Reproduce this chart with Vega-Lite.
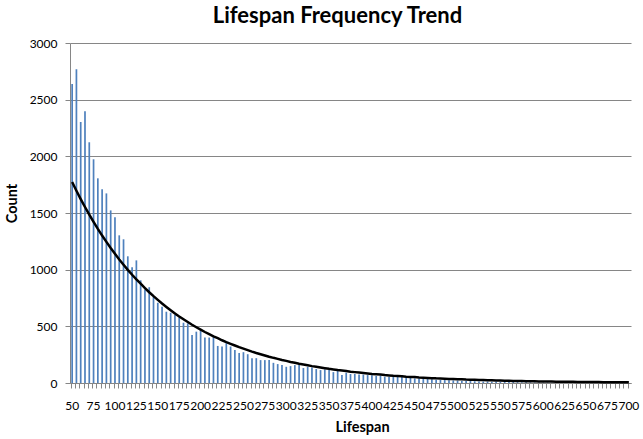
{
  "$schema": "https://vega.github.io/schema/vega-lite/v6.json",
  "width": 561,
  "height": 340,
  "autosize": {"type": "none"},
  "padding": {"left": 70, "top": 43, "right": 12, "bottom": 56},
  "title": {
    "text": "Lifespan Frequency Trend",
    "font": "Lato",
    "fontSize": 22,
    "fontWeight": "bold",
    "color": "#000000",
    "offset": 9,
    "dx": -13
  },
  "data": {
    "values": [
      {"lifespan": 50, "count": 2638, "trend": 1773},
      {"lifespan": 55, "count": 2768, "trend": 1696},
      {"lifespan": 60, "count": 2303, "trend": 1623},
      {"lifespan": 65, "count": 2397, "trend": 1553},
      {"lifespan": 70, "count": 2124, "trend": 1486},
      {"lifespan": 75, "count": 1974, "trend": 1422},
      {"lifespan": 80, "count": 1806, "trend": 1360},
      {"lifespan": 85, "count": 1709, "trend": 1301},
      {"lifespan": 90, "count": 1673, "trend": 1245},
      {"lifespan": 95, "count": 1523, "trend": 1191},
      {"lifespan": 100, "count": 1462, "trend": 1140},
      {"lifespan": 105, "count": 1303, "trend": 1090},
      {"lifespan": 110, "count": 1268, "trend": 1043},
      {"lifespan": 115, "count": 1118, "trend": 998},
      {"lifespan": 120, "count": 1021, "trend": 955},
      {"lifespan": 125, "count": 1082, "trend": 914},
      {"lifespan": 130, "count": 906, "trend": 876},
      {"lifespan": 135, "count": 825, "trend": 838},
      {"lifespan": 140, "count": 845, "trend": 801},
      {"lifespan": 145, "count": 760, "trend": 766},
      {"lifespan": 150, "count": 708, "trend": 733},
      {"lifespan": 155, "count": 673, "trend": 701},
      {"lifespan": 160, "count": 629, "trend": 671},
      {"lifespan": 165, "count": 620, "trend": 642},
      {"lifespan": 170, "count": 599, "trend": 614},
      {"lifespan": 175, "count": 579, "trend": 587},
      {"lifespan": 180, "count": 532, "trend": 562},
      {"lifespan": 185, "count": 526, "trend": 538},
      {"lifespan": 190, "count": 424, "trend": 514},
      {"lifespan": 195, "count": 453, "trend": 492},
      {"lifespan": 200, "count": 462, "trend": 471},
      {"lifespan": 205, "count": 401, "trend": 450},
      {"lifespan": 210, "count": 401, "trend": 431},
      {"lifespan": 215, "count": 404, "trend": 412},
      {"lifespan": 220, "count": 327, "trend": 395},
      {"lifespan": 225, "count": 322, "trend": 377},
      {"lifespan": 230, "count": 351, "trend": 361},
      {"lifespan": 235, "count": 322, "trend": 346},
      {"lifespan": 240, "count": 292, "trend": 331},
      {"lifespan": 245, "count": 265, "trend": 316},
      {"lifespan": 250, "count": 272, "trend": 303},
      {"lifespan": 255, "count": 254, "trend": 290},
      {"lifespan": 260, "count": 219, "trend": 277},
      {"lifespan": 265, "count": 219, "trend": 265},
      {"lifespan": 270, "count": 202, "trend": 254},
      {"lifespan": 275, "count": 202, "trend": 243},
      {"lifespan": 280, "count": 202, "trend": 232},
      {"lifespan": 285, "count": 178, "trend": 222},
      {"lifespan": 290, "count": 167, "trend": 213},
      {"lifespan": 295, "count": 158, "trend": 203},
      {"lifespan": 300, "count": 143, "trend": 195},
      {"lifespan": 305, "count": 149, "trend": 186},
      {"lifespan": 310, "count": 158, "trend": 178},
      {"lifespan": 315, "count": 164, "trend": 170},
      {"lifespan": 320, "count": 132, "trend": 163},
      {"lifespan": 325, "count": 143, "trend": 156},
      {"lifespan": 330, "count": 137, "trend": 149},
      {"lifespan": 335, "count": 123, "trend": 143},
      {"lifespan": 340, "count": 114, "trend": 137},
      {"lifespan": 345, "count": 120, "trend": 131},
      {"lifespan": 350, "count": 114, "trend": 125},
      {"lifespan": 355, "count": 96, "trend": 120},
      {"lifespan": 360, "count": 108, "trend": 114},
      {"lifespan": 365, "count": 70, "trend": 110},
      {"lifespan": 370, "count": 91, "trend": 105},
      {"lifespan": 375, "count": 79, "trend": 100},
      {"lifespan": 380, "count": 80, "trend": 96},
      {"lifespan": 385, "count": 75, "trend": 92},
      {"lifespan": 390, "count": 74, "trend": 88},
      {"lifespan": 395, "count": 70, "trend": 84},
      {"lifespan": 400, "count": 68, "trend": 80},
      {"lifespan": 405, "count": 62, "trend": 77},
      {"lifespan": 410, "count": 66, "trend": 74},
      {"lifespan": 415, "count": 56, "trend": 70},
      {"lifespan": 420, "count": 54, "trend": 67},
      {"lifespan": 425, "count": 55, "trend": 64},
      {"lifespan": 430, "count": 54, "trend": 62},
      {"lifespan": 435, "count": 70, "trend": 59},
      {"lifespan": 440, "count": 47, "trend": 56},
      {"lifespan": 445, "count": 47, "trend": 54},
      {"lifespan": 450, "count": 41, "trend": 52},
      {"lifespan": 455, "count": 39, "trend": 49},
      {"lifespan": 460, "count": 38, "trend": 47},
      {"lifespan": 465, "count": 35, "trend": 45},
      {"lifespan": 470, "count": 32, "trend": 43},
      {"lifespan": 475, "count": 29, "trend": 41},
      {"lifespan": 480, "count": 27, "trend": 40},
      {"lifespan": 485, "count": 26, "trend": 38},
      {"lifespan": 490, "count": 24, "trend": 36},
      {"lifespan": 495, "count": 23, "trend": 35},
      {"lifespan": 500, "count": 21, "trend": 33},
      {"lifespan": 505, "count": 19, "trend": 32},
      {"lifespan": 510, "count": 18, "trend": 30},
      {"lifespan": 515, "count": 17, "trend": 29},
      {"lifespan": 520, "count": 16, "trend": 28},
      {"lifespan": 525, "count": 14, "trend": 27},
      {"lifespan": 530, "count": 13, "trend": 25.5},
      {"lifespan": 535, "count": 12, "trend": 24.4},
      {"lifespan": 540, "count": 11, "trend": 23.3},
      {"lifespan": 545, "count": 10, "trend": 22.3},
      {"lifespan": 550, "count": 10, "trend": 21.3},
      {"lifespan": 555, "count": 9, "trend": 20.4},
      {"lifespan": 560, "count": 8, "trend": 19.5},
      {"lifespan": 565, "count": 8, "trend": 18.7},
      {"lifespan": 570, "count": 7, "trend": 17.9},
      {"lifespan": 575, "count": 6, "trend": 17.1},
      {"lifespan": 580, "count": 6, "trend": 16.4},
      {"lifespan": 585, "count": 5, "trend": 15.7},
      {"lifespan": 590, "count": 5, "trend": 15.0},
      {"lifespan": 595, "count": 4, "trend": 14.3},
      {"lifespan": 600, "count": 4, "trend": 13.7},
      {"lifespan": 605, "count": 4, "trend": 13.1},
      {"lifespan": 610, "count": 3, "trend": 12.6},
      {"lifespan": 615, "count": 3, "trend": 12.0},
      {"lifespan": 620, "count": 3, "trend": 11.5},
      {"lifespan": 625, "count": 3, "trend": 11.0},
      {"lifespan": 630, "count": 2, "trend": 10.5},
      {"lifespan": 635, "count": 2, "trend": 10.1},
      {"lifespan": 640, "count": 2, "trend": 9.7},
      {"lifespan": 645, "count": 2, "trend": 9.2},
      {"lifespan": 650, "count": 2, "trend": 8.8},
      {"lifespan": 655, "count": 1, "trend": 8.5},
      {"lifespan": 660, "count": 2, "trend": 8.1},
      {"lifespan": 665, "count": 1, "trend": 7.8},
      {"lifespan": 670, "count": 1, "trend": 7.4},
      {"lifespan": 675, "count": 1, "trend": 7.1},
      {"lifespan": 680, "count": 1, "trend": 6.8},
      {"lifespan": 685, "count": 1, "trend": 6.5},
      {"lifespan": 690, "count": 1, "trend": 6.2},
      {"lifespan": 695, "count": 1, "trend": 5.9},
      {"lifespan": 700, "count": 1, "trend": 5.7}
    ]
  },
  "encoding": {
    "x": {
      "field": "lifespan",
      "type": "ordinal",
      "scale": {"paddingInner": 0.6, "paddingOuter": 0.3},
      "axis": {
        "title": "Lifespan",
        "bandPosition": 0,
        "labelExpr": "datum.value % 25 == 0 ? datum.label : ''",
        "labelOverlap": false,
        "labelAngle": 0,
        "labelFont": "Lato",
        "labelFontSize": 12,
        "labelColor": "#000000",
        "labelBaseline": "top",
        "labelPadding": 12,
        "tickSize": 5,
        "tickColor": "#868686",
        "domainColor": "#868686",
        "titleFont": "Lato",
        "titleFontSize": 14.5,
        "titleFontWeight": "bold",
        "titleColor": "#000000",
        "titleX": 292,
        "titleY": 44,
        "titleBaseline": "middle",
        "titleAlign": "center"
      }
    }
  },
  "layer": [
    {
      "mark": {"type": "bar", "color": "#4F81BD"},
      "encoding": {
        "y": {
          "field": "count",
          "type": "quantitative",
          "scale": {"domain": [0, 3000]},
          "axis": {
            "title": "Count",
            "values": [0, 500, 1000, 1500, 2000, 2500, 3000],
            "format": "d",
            "grid": true,
            "gridColor": "#868686",
            "gridOpacity": 1,
            "domainColor": "#868686",
            "tickColor": "#868686",
            "tickSize": 5,
            "labelPadding": 8,
            "labelFont": "Lato",
            "labelFontSize": 12,
            "labelColor": "#000000",
            "titleFont": "Lato",
            "titleFontSize": 14.5,
            "titleFontWeight": "bold",
            "titleColor": "#000000",
            "titleX": -58,
            "titleY": 160,
            "titleBaseline": "middle",
            "titleAlign": "center",
            "titleAngle": -90
          }
        }
      }
    },
    {
      "mark": {"type": "line", "color": "#000000", "strokeWidth": 2.5},
      "encoding": {
        "y": {
          "field": "trend",
          "type": "quantitative",
          "axis": {"title": "Count", "format": "d"}
        }
      }
    }
  ],
  "config": {
    "view": {"stroke": null}
  }
}
